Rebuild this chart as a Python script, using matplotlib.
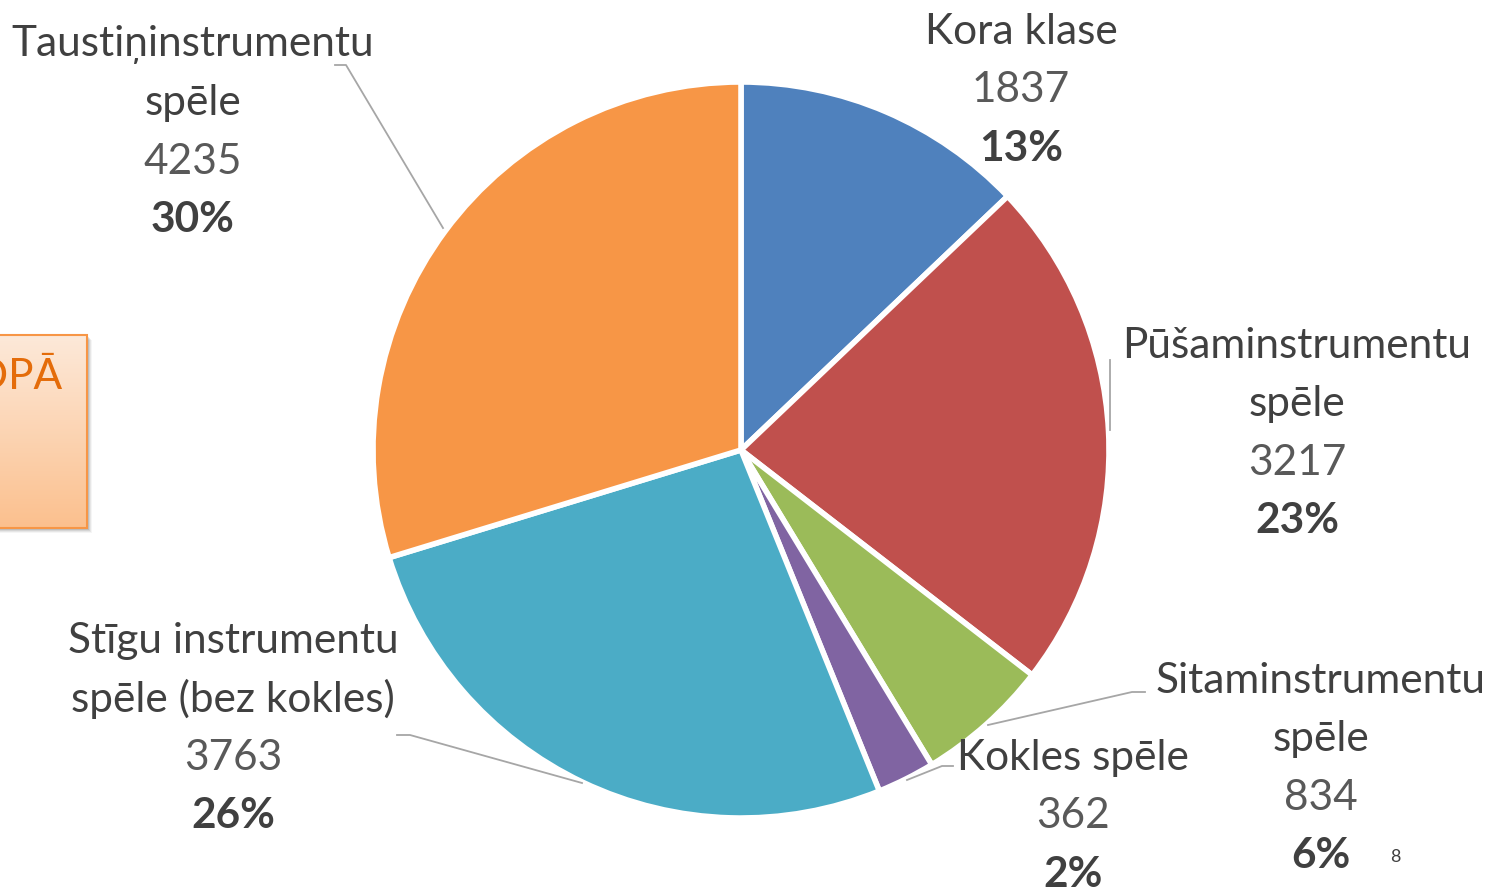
import matplotlib.pyplot as plt
import numpy as np
from matplotlib.patches import Rectangle

plt.rcParams['font.family'] = ['Lato', 'DejaVu Sans']

# data
categories = ["Kora klase", "Pūšaminstrumentu\nspēle", "Sitaminstrumentu\nspēle",
              "Kokles spēle", "Stīgu instrumentu\nspēle (bez kokles)", "Taustiņinstrumentu\nspēle"]
values = [1837, 3217, 834, 362, 3763, 4235]
percents = [13, 23, 6, 2, 26, 30]
colors = ["#4f81bd", "#c0504d", "#9bbb59", "#8064a2", "#4bacc6", "#f79646"]

W, H = 1497, 892
fig = plt.figure(figsize=(W / 100, H / 100), dpi=100)
ax = fig.add_axes([0, 0, 1, 1])

def Y(y):
  return H - y

# left partial box with gradient
grad = np.linspace(0, 1, 100).reshape(-1, 1)
c0 = np.array([0xfd, 0xe9, 0xd9]) / 255.0
c1 = np.array([0xfb, 0xc0, 0x8e]) / 255.0
img = c0 + (c1 - c0) * grad[..., None]
for i, a in enumerate([0.10, 0.08, 0.06, 0.04]):
  ax.add_patch(Rectangle((-20, Y(530 + i)), 109 + i, 193, facecolor="black", alpha=a,
                         edgecolor="none", zorder=1))
ax.imshow(img, extent=(-20, 87, Y(528), Y(335)), aspect='auto', zorder=2)
ax.add_patch(Rectangle((-20, Y(528)), 107, 193, facecolor="none", edgecolor="#f79646", lw=1.5, zorder=3))
ax.text(62, Y(377), "KOPĀ", color="#e46c0a", fontsize=30.5, ha='right', va='center', zorder=4)

# pie
cx, cy, r = 741, Y(450), 368
ax.pie(values, colors=colors, startangle=90, counterclock=False,
       center=(cx, cy), radius=r, frame=True,
       wedgeprops=dict(edgecolor="white", linewidth=4))
ax.set_xlim(0, W)
ax.set_ylim(0, H)
ax.set_aspect('equal')
ax.axis('off')

# label positions: center x, y of first line, leader line points
label_pos = [
  (1021, 32, None),
  (1297, 346, [(1110, 360), (1110, 430)]),
  (1321, 681, [(1145, 692), (1132, 692), (988, 725)]),
  (1073, 758, [(953, 766), (942, 766), (907, 780)]),
  (233, 641, [(397, 735), (410, 735), (582, 783)]),
  (193, 45, [(335, 65), (346, 65), (443, 228)]),
]
step = 58.3
fs = 30.5
for name, v, p, (lx, ly, lead) in zip(categories, values, percents, label_pos):
  lines = name.split("\n")
  y = ly
  for ln in lines:
    ax.text(lx, Y(y), ln, ha='center', va='center', fontsize=fs, color="#404040")
    y += step
  ax.text(lx, Y(y), str(v), ha='center', va='center', fontsize=fs, color="#595959")
  y += step
  ax.text(lx, Y(y), "%d%%" % p, ha='center', va='center',
          fontsize=fs, color="#404040", fontweight='bold')
  if lead:
    xs = [q[0] for q in lead]
    ys = [Y(q[1]) for q in lead]
    ax.plot(xs, ys, color="#a6a6a6", lw=1.3)

ax.text(1395, Y(857), "8", ha='center', va='center', fontsize=13, color="#404040")

fig.savefig("out.png", dpi=100)
